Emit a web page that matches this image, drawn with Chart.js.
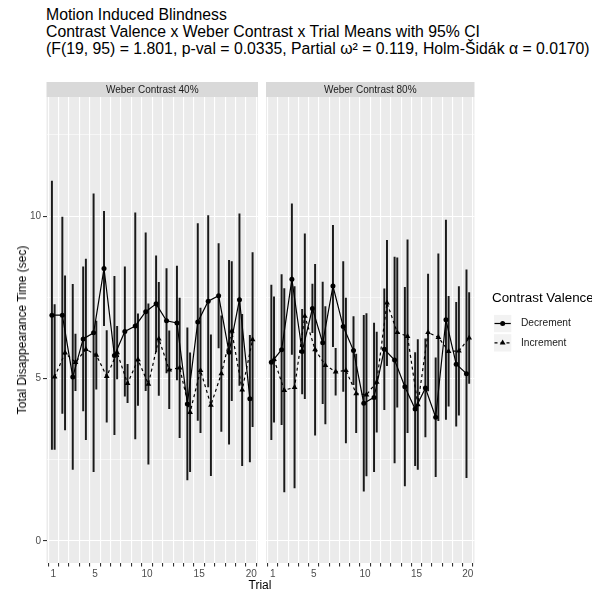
<!DOCTYPE html>
<html lang="en">
<head>
<meta charset="UTF-8">
<title>Motion Induced Blindness</title>
<script src="https://cdn.jsdelivr.net/npm/chart.js"></script>
<style>
  html, body { margin: 0; padding: 0; background: #fff; }
  #page { position: relative; width: 592px; height: 592px; overflow: hidden; font-family: 'Liberation Sans', Arial, sans-serif; }
  .title { position: absolute; left: 46px; top: 5.5px; font-size: 15.8px; line-height: 17.2px; color: #000; white-space: nowrap; }
  #c40 { position: absolute; left: 0; top: 82px; }
  #c80 { position: absolute; left: 262px; top: 82px; }
  .ylab { position: absolute; left: 22px; top: 330px; transform: translate(-50%, -50%) rotate(-90deg); font-size: 12px; color: #000; white-space: nowrap; }
  .xlab { position: absolute; left: 260px; top: 585px; transform: translate(-50%, -50%); font-size: 12px; color: #000; }
</style>
</head>
<body>
<div id="page">
  <div class="title">Motion Induced Blindness<br>Contrast Valence x Weber Contrast x Trial Means with 95% CI<br>(F(19, 95) = 1.801, p-val = 0.0335, Partial ω² = 0.119, Holm-Šidák α = 0.0170)</div>
  <canvas id="c40" width="262" height="510"></canvas>
  <canvas id="c80" width="330" height="510"></canvas>
  <div class="ylab">Total Disappearance Time (sec)</div>
  <div class="xlab">Trial</div>
</div>

<script>
  // trials on the x axis, only some of them get a label
  const trials = [1, 2, 3, 4, 5, 6, 7, 8, 9, 10, 11, 12, 13, 14, 15, 16, 17, 18, 19, 20];
  const labeledTrials = [1, 5, 10, 15, 20];
  const yTicks = [0, 2.5, 5, 7.5, 10, 12.5];
  const yLabeled = [0, 5, 10];

  // Weber contrast 40%
  const dec40   = [6.95, 6.95, 5.05, 6.22, 6.41, 8.39, 5.71, 6.45, 6.62, 7.06, 7.30, 6.78, 6.71, 4.22, 6.74, 7.38, 7.55, 5.81, 7.43, 4.38];
  const dec40Lo = [2.82, 3.93, 2.20, 4.00, 2.13, 6.63, 3.27, 4.46, 3.14, 4.63, 5.82, 5.17, 4.96, 1.88, 3.71, 4.74, 5.94, 2.98, 4.79, 2.43];
  const dec40Hi = [11.08, 9.97, 7.90, 8.44, 10.69, 10.15, 8.15, 8.44, 10.10, 9.49, 8.78, 8.39, 8.46, 6.56, 9.77, 10.02, 9.16, 8.64, 10.07, 6.33];
  const inc40   = [5.05, 5.79, 5.50, 5.90, 5.72, 5.07, 5.80, 4.85, 5.58, 4.83, 6.22, 5.27, 5.33, 3.96, 5.25, 4.18, 5.15, 6.46, 4.65, 6.20];
  const inc40Lo = [2.82, 3.42, 4.63, 3.12, 4.67, 3.66, 4.99, 4.26, 4.17, 2.36, 4.48, 4.07, 3.18, 2.13, 3.33, 2.01, 3.37, 4.32, 2.32, 3.52];
  const inc40Hi = [7.28, 8.16, 6.37, 8.68, 6.77, 6.48, 6.61, 5.44, 6.99, 7.30, 7.96, 6.47, 7.48, 5.79, 7.17, 6.35, 6.93, 8.60, 6.98, 8.88];

  // Weber contrast 80%
  const dec80   = [5.50, 5.89, 8.06, 5.83, 7.16, 6.10, 7.85, 6.60, 5.86, 4.24, 4.42, 5.90, 5.57, 4.75, 4.06, 4.71, 3.81, 6.81, 5.44, 5.15];
  const dec80Lo = [3.12, 3.58, 5.74, 4.53, 6.41, 4.23, 5.98, 4.60, 4.81, 1.53, 2.13, 4.04, 2.40, 1.69, 2.32, 3.20, 1.98, 3.74, 3.53, 1.95];
  const dec80Hi = [7.88, 8.20, 10.38, 7.13, 7.91, 7.97, 9.72, 8.60, 6.91, 6.95, 6.71, 7.76, 8.74, 7.81, 5.80, 6.22, 5.64, 9.88, 7.35, 8.35];
  const inc80   = [5.59, 4.64, 4.73, 6.92, 5.89, 5.41, 5.21, 5.25, 4.54, 4.50, 4.89, 7.33, 6.42, 6.30, 4.20, 6.42, 6.27, 5.84, 5.85, 6.25];
  const inc80Lo = [3.66, 1.51, 1.63, 4.38, 3.26, 3.60, 4.49, 3.02, 3.33, 2.00, 3.35, 5.40, 4.12, 3.33, 2.20, 4.62, 3.70, 4.15, 3.87, 4.85];
  const inc80Hi = [7.52, 7.77, 7.83, 9.46, 8.52, 7.22, 5.93, 7.48, 5.75, 7.00, 6.43, 9.26, 8.72, 9.27, 6.20, 8.22, 8.84, 7.53, 7.83, 7.65];

  const DODGE = 0.13;
  const FONT = "'Liberation Sans', Arial, sans-serif";
  Chart.defaults.font.family = FONT;

  // grey panel + facet strip
  const stripPlugin = {
    id: 'strip',
    beforeDraw(chart, args, opts) {
      const { ctx, chartArea: a } = chart;
      ctx.save();
      ctx.fillStyle = '#ebebeb';
      ctx.fillRect(a.left, a.top, a.right - a.left, a.bottom - a.top);
      ctx.fillStyle = '#d9d9d9';
      ctx.fillRect(a.left, 0, a.right - a.left, a.top);
      ctx.fillStyle = '#1a1a1a';
      ctx.font = '10px ' + FONT;
      ctx.textAlign = 'center';
      ctx.textBaseline = 'middle';
      ctx.fillText(opts.text, (a.left + a.right) / 2, a.top / 2 + 0.5);
      ctx.restore();
    }
  };

  // ggplot style legend to the right of the second panel
  const keyLegend = {
    id: 'keyLegend',
    afterDraw(chart, args, opts) {
      if (!opts.show) return;
      const ctx = chart.ctx;
      const x0 = 232, rows = [241.5, 260.8];
      ctx.save();
      ctx.fillStyle = '#000';
      ctx.font = '13.4px ' + FONT;
      ctx.textBaseline = 'middle';
      ctx.fillText('Contrast Valence', 230, 216);
      const items = [
        { label: 'Decrement', dash: [], style: 'circle' },
        { label: 'Increment', dash: [3, 3], style: 'triangle' }
      ];
      items.forEach((it, i) => {
        const cy = rows[i];
        ctx.fillStyle = '#f2f2f2';
        ctx.fillRect(x0, cy - 8.6, 17.3, 17.3);
        ctx.strokeStyle = '#000';
        ctx.lineWidth = 1.2;
        ctx.setLineDash(it.dash);
        ctx.beginPath();
        ctx.moveTo(x0 + 0.5, cy);
        ctx.lineTo(x0 + 16.8, cy);
        ctx.stroke();
        ctx.setLineDash([]);
        ctx.fillStyle = '#000';
        ctx.beginPath();
        const cx = x0 + 8.65;
        if (it.style === 'circle') {
          ctx.arc(cx, cy, 2.5, 0, Math.PI * 2);
        } else {
          ctx.moveTo(cx, cy - 3.3);
          ctx.lineTo(cx + 2.9, cy + 1.7);
          ctx.lineTo(cx - 2.9, cy + 1.7);
          ctx.closePath();
        }
        ctx.fill();
        ctx.fillStyle = '#1a1a1a';
        ctx.font = '10.2px ' + FONT;
        ctx.fillText(it.label, 259, cy);
      });
      ctx.restore();
    }
  };

  function pts(values, shift) {
    return trials.map((t, i) => ({ x: t + shift, y: values[i] }));
  }
  function bars(lo, hi, shift) {
    return trials.map((t, i) => ({ x: t + shift, y: [lo[i], hi[i]] }));
  }

  function makePanel(id, strip, dec, decLo, decHi, inc, incLo, incHi, first) {
    const ctx = document.getElementById(id).getContext('2d');
    return new Chart(ctx, {
      data: {
        datasets: [
          {
            type: 'line', label: 'Decrement', data: pts(dec, -DODGE),
            borderColor: '#000', borderWidth: 1.2, pointRadius: 2.5, pointStyle: 'circle',
            pointBackgroundColor: '#000', pointBorderWidth: 0, tension: 0
          },
          {
            type: 'line', label: 'Increment', data: pts(inc, DODGE),
            borderColor: '#000', borderWidth: 1.2, borderDash: [3, 3], pointRadius: 3.3, pointStyle: 'triangle',
            pointBackgroundColor: '#000', pointBorderWidth: 0, tension: 0
          },
          {
            type: 'bar', label: 'Decrement CI', data: bars(decLo, decHi, -DODGE),
            backgroundColor: '#1a1a1a', barThickness: 1.3, grouped: false, borderWidth: 0, borderSkipped: false
          },
          {
            type: 'bar', label: 'Increment CI', data: bars(incLo, incHi, DODGE),
            backgroundColor: '#1a1a1a', barThickness: 1.3, grouped: false, borderWidth: 0, borderSkipped: false
          }
        ]
      },
      options: {
        responsive: false,
        animation: false,
        layout: { padding: first ? { left: 0, top: 15, right: 4, bottom: 0 } : { left: 0, top: 15, right: 117.5, bottom: 0 } },
        plugins: {
          legend: { display: false },
          tooltip: { enabled: false },
          strip: { text: strip },
          keyLegend: { show: !first }
        },
        scales: {
          x: {
            type: 'linear', min: 0.35, max: 20.65, offset: false,
            afterBuildTicks: (s) => { s.ticks = trials.map(v => ({ value: v })); },
            afterFit: (s) => { s.height = 29; },
            border: { display: false },
            grid: { color: '#ffffff', lineWidth: 1.1, tickColor: '#333333', tickLength: 3.5, tickWidth: 1.1 },
            ticks: {
              autoSkip: false, maxRotation: 0, padding: 2, color: '#4d4d4d', font: { size: 10 },
              callback: (v) => labeledTrials.includes(v) ? String(v) : ''
            }
          },
          y: {
            type: 'linear', min: -0.68, max: 13.67,
            afterBuildTicks: (s) => { s.ticks = yTicks.map(v => ({ value: v })); },
            afterFit: (s) => { s.width = first ? 46.5 : 1; },
            border: { display: false },
            grid: {
              color: '#ffffff',
              lineWidth: (c) => (c.tick && yLabeled.includes(c.tick.value)) ? 1.1 : 0.55,
              tickColor: (c) => (c.tick && yLabeled.includes(c.tick.value)) ? '#333333' : 'rgba(0,0,0,0)',
              drawTicks: first, tickLength: 3.5, tickWidth: 1.1
            },
            ticks: {
              display: first, padding: 2, color: '#4d4d4d', font: { size: 10 },
              callback: (v) => yLabeled.includes(v) ? String(v) : ''
            }
          }
        }
      },
      plugins: [stripPlugin, keyLegend]
    });
  }

  makePanel('c40', 'Weber Contrast 40%', dec40, dec40Lo, dec40Hi, inc40, inc40Lo, inc40Hi, true);
  makePanel('c80', 'Weber Contrast 80%', dec80, dec80Lo, dec80Hi, inc80, inc80Lo, inc80Hi, false);
</script>
</body>
</html>
